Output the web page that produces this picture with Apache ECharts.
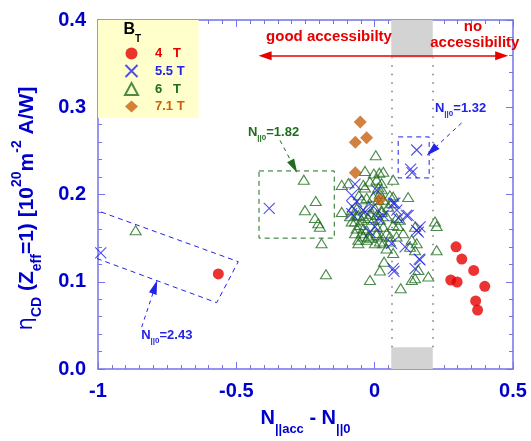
<!DOCTYPE html>
<html>
<head>
<meta charset="utf-8">
<script src="https://cdn.jsdelivr.net/npm/echarts@6/dist/echarts.min.js"></script>
<style>html,body{margin:0;padding:0;background:#fff}#c{width:531px;height:441px}</style>
</head>
<body>
<div id="c"></div>
<script>
// ---- data ----
const xTicks = [-1, -0.5, 0, 0.5];
const yTicks = [0.0, 0.1, 0.2, 0.3, 0.4];
const seriesNames = ['4   T', '5.5 T', '6   T', '7.1 T'];
const circles4T = [[0.294,0.140],[0.315,0.126],[0.358,0.113],[0.275,0.102],[0.298,0.0997],[0.398,0.0948],[0.365,0.078],[0.372,0.0676],[-0.565,0.109]];
const crosses55T = [[0.152,0.251],[0.130,0.229],[0.135,0.225],[-0.381,0.184],[-0.990,0.133],
 [-0.071,0.212],[-0.083,0.199],[-0.081,0.186],[-0.083,0.178],[-0.041,0.182],[0.007,0.205],[0.001,0.163],[0.013,0.173],[0.031,0.176],[0.067,0.190],[0.080,0.182],[0.085,0.173],[0.121,0.176],[0.152,0.159],[0.164,0.163],[0.110,0.140],[0.061,0.144],[0.164,0.125],[0.067,0.115],[0.146,0.115],[-0.005,0.186],[-0.035,0.180],[-0.017,0.157],[-0.065,0.192],[0.073,0.19],[0.115,0.176],[0.158,0.157],[0.161,0.126],[0.070,0.112]];
const triangles6T = [[0.004,0.245],[-0.035,0.227],[-0.003,0.224],[0.017,0.225],[0.031,0.226],[0.007,0.217],[-0.017,0.215],[0.025,0.213],[0.067,0.217],[-0.119,0.211],[-0.095,0.213],[-0.035,0.208],[0.013,0.208],[0.025,0.206],[0.019,0.201],[-0.047,0.1945],[-0.029,0.196],[-0.005,0.1975],[0.013,0.194],[0.031,0.194],[0.121,0.197],[0.067,0.1975],[-0.119,0.180],[-0.083,0.182],[-0.065,0.184],[-0.023,0.186],[0.001,0.184],[0.025,0.182],[-0.089,0.175],[-0.059,0.1765],[-0.041,0.175],[-0.017,0.178],[0.007,0.1765],[0.049,0.186],[-0.071,0.169],[-0.047,0.171],[-0.005,0.171],[0.019,0.171],[0.043,0.175],[0.091,0.171],[-0.065,0.161],[-0.041,0.161],[0.007,0.163],[0.031,0.163],[0.067,0.165],[0.085,0.164],[-0.071,0.1555],[-0.047,0.1555],[-0.023,0.152],[0.007,0.154],[0.025,0.152],[0.043,0.1555],[0.079,0.152],[0.103,0.1555],[-0.059,0.148],[-0.029,0.148],[0.001,0.144],[0.031,0.144],[0.055,0.146],[0.134,0.148],[0.152,0.144],[0.067,0.133],[0.128,0.140],[0.146,0.136],[0.043,0.138],[0.034,0.123],[0.019,0.113],[-0.017,0.102],[0.094,0.0925],[0.134,0.102],[0.146,0.104],[0.194,0.106],[0.218,0.169],[0.224,0.164],[0.224,0.136],[0.146,0.163],[0.158,0.1135],[0.079,0.173],
 [-0.256,0.217],[-0.213,0.1925],[-0.252,0.182],[-0.216,0.173],[-0.204,0.167],[-0.198,0.163],[-0.192,0.144],[-0.176,0.1085],[-0.864,0.159],
 [-0.057,0.199],[-0.041,0.211],[0.055,0.199],[0.061,0.190],[0.025,0.180],[-0.065,0.176],[-0.023,0.173],[-0.083,0.169],[-0.053,0.165],[-0.029,0.159],[0.007,0.156],[-0.017,0.150],[0.019,0.146],[0.055,0.152],[-0.059,0.144],[-0.041,0.152]];
const diamonds71T = [[-0.052,0.283],[-0.070,0.260],[-0.029,0.265],[-0.070,0.225],[0.019,0.194]];
// shaded band and annotations (data coordinates)
const bandX = [0.06, 0.21];
const bandTopY = [0.357, 0.4];
const bandBottomY = [0, 0.025];
const accessArrowY = 0.359;
const accessArrowX = [-0.396, 0.459];
const box132 = [[0.085,0.266],[0.197,0.219]];
const box182 = [[-0.418,0.227],[-0.146,0.150]];
const poly243 = [[-1.05,0.187],[-0.493,0.123],[-0.571,0.076],[-1.05,0.132],[-1.05,0.187]];
const arrow132 = [[0.314,0.282],[0.206,0.250]];
const arrow182 = [[-0.342,0.262],[-0.292,0.232]];
const arrow243 = [[-0.842,0.048],[-0.794,0.094]];

const FONT = 'Liberation Sans, Arial, sans-serif';
const AXC = '#0000cc';
const FRAME = '#7373ea';
const RED = '#e60000', BLUE = '#2323e6', GREEN = '#1f6e1f', ORANGE = '#c8620f';

const chart = echarts.init(document.getElementById('c'));

function xAx(pos, show) {
  return {
    type: 'value', min: -1, max: 0.5, interval: 0.5, position: pos,
    axisLine: {show: true, onZero: false, lineStyle: {color: FRAME, width: 1.5}},
    axisTick: {show: true, inside: true, length: 7, lineStyle: {color: FRAME}},
    minorTick: {show: true, splitNumber: 10, length: 4, lineStyle: {color: FRAME}},
    splitLine: {show: false}, minorSplitLine: {show: false},
    axisLabel: {show: show, margin: 12, color: AXC, fontFamily: FONT, fontWeight: 'bold', fontSize: 20,
      formatter: v => String(xTicks.find(t => Math.abs(t - v) < 1e-9) ?? v)},
    name: show ? '{m|N}{s|||acc}{m| - N}{s|||0}' : '',
    nameLocation: 'middle', nameGap: 39,
    nameTextStyle: {rich: {
      m: {fontFamily: FONT, fontWeight: 'bold', fontSize: 20, color: AXC, lineHeight: 28, verticalAlign: 'top'},
      s: {fontFamily: FONT, fontWeight: 'bold', fontSize: 13, color: AXC, lineHeight: 14, verticalAlign: 'bottom'}}}
  };
}
function yAx(pos, show) {
  return {
    type: 'value', min: 0, max: 0.4, interval: 0.1, position: pos,
    axisLine: {show: true, onZero: false, lineStyle: {color: FRAME, width: 1.5}},
    axisTick: {show: true, inside: true, length: 7, lineStyle: {color: FRAME}},
    minorTick: {show: true, splitNumber: 5, length: 4, lineStyle: {color: FRAME}},
    splitLine: {show: false}, minorSplitLine: {show: false},
    axisLabel: {show: show, margin: 12, color: AXC, fontFamily: FONT, fontWeight: 'bold', fontSize: 20,
      formatter: v => (yTicks.find(t => Math.abs(t - v) < 1e-9) ?? v).toFixed(1)},
    name: show ? '{g|η}{s|CD}{m| (Z}{s|eff}{m|=1) [10}{p|20}{m|m}{p|-2}{m| A/W]}' : '',
    nameLocation: 'middle', nameGap: 54,
    nameTextStyle: {padding: [0, 28, 0, 0], rich: {
      g: {fontFamily: 'DejaVu Sans', fontSize: 21, color: AXC, lineHeight: 34, verticalAlign: 'middle'},
      m: {fontFamily: FONT, fontWeight: 'bold', fontSize: 21, color: AXC, lineHeight: 34, verticalAlign: 'middle'},
      s: {fontFamily: FONT, fontWeight: 'bold', fontSize: 14, color: AXC, lineHeight: 14, verticalAlign: 'bottom'},
      p: {fontFamily: FONT, fontWeight: 'bold', fontSize: 14, color: AXC, lineHeight: 14, verticalAlign: 'top'}}}
  };
}

const crossPath = 'path://M0,0L10,10M10,0L0,10';

const option = {
  animation: false,
  backgroundColor: '#fff',
  grid: {left: 98, right: 18, top: 20, bottom: 72},
  xAxis: [xAx('bottom', true), xAx('top', false)],
  yAxis: [yAx('left', true), yAx('right', false)],
  legend: {
    orient: 'vertical', left: 98, top: 20,
    backgroundColor: '#ffffcc', borderWidth: 0,
    padding: [27, 14, 5, 26], itemGap: 4, itemWidth: 13, itemHeight: 12,
    textStyle: {fontFamily: FONT, fontWeight: 'bold', fontSize: 13, padding: [0, 0, 0, 12]},
    data: [
      {name: seriesNames[0], textStyle: {color: RED}},
      {name: seriesNames[1], textStyle: {color: BLUE}},
      {name: seriesNames[2], textStyle: {color: GREEN}},
      {name: seriesNames[3], textStyle: {color: ORANGE}}
    ],
    selectedMode: false
  },
  series: [
    { // accessibility arrow
      type: 'scatter', data: [], z: 1, silent: true,
      markLine: {silent: true, symbol: ['triangle', 'triangle'], symbolSize: [9, 13], label: {show: false},
        lineStyle: {color: RED, width: 1.5, type: 'solid'},
        data: [[{coord: [accessArrowX[0], accessArrowY]}, {coord: [accessArrowX[1], accessArrowY]}]]}
    },
    { // gray bands + dotted lines
      type: 'scatter', data: [], z: 2, silent: true,
      markArea: {silent: true, itemStyle: {color: '#d3d3d3'}, label: {show: false},
        data: [[{coord: [bandX[0], bandTopY[0]]}, {coord: [bandX[1], bandTopY[1]]}],
               [{coord: [bandX[0], bandBottomY[0]]}, {coord: [bandX[1], bandBottomY[1]]}]]},
      markLine: {silent: true, symbol: ['none', 'none'], label: {show: false},
        lineStyle: {color: '#777', width: 1.5, type: [1.5, 7]},
        data: [[{coord: [bandX[0], bandBottomY[1]]}, {coord: [bandX[0], bandTopY[0]]}],
               [{coord: [bandX[1], bandBottomY[1]]}, {coord: [bandX[1], bandTopY[0]]}]]}
    },
    { // annotation boxes & arrows
      type: 'scatter', data: [], z: 3, silent: true,
      markArea: {silent: true, label: {show: false},
        data: [[{coord: box132[0], itemStyle: {color: 'rgba(0,0,0,0)', borderColor: BLUE, borderWidth: 1, borderType: [5, 4]}}, {coord: box132[1]}],
               [{coord: box182[0], itemStyle: {color: 'rgba(0,0,0,0)', borderColor: GREEN, borderWidth: 1, borderType: [5, 4]}}, {coord: box182[1]}]]},
      markLine: {silent: true, symbol: ['none', 'triangle'], symbolSize: [8, 14], label: {show: false},
        data: [[{coord: arrow132[0], lineStyle: {color: BLUE, width: 1, type: [4, 4]}}, {coord: arrow132[1]}],
               [{coord: arrow182[0], lineStyle: {color: GREEN, width: 1, type: [4, 4]}}, {coord: arrow182[1]}],
               [{coord: arrow243[0], lineStyle: {color: BLUE, width: 1, type: [4, 4]}}, {coord: arrow243[1]}]]}
    },
    { // N||0=2.43 slanted box
      type: 'line', data: poly243, z: 3, silent: true, showSymbol: false, symbol: 'none', clip: true,
      lineStyle: {color: BLUE, width: 1, type: [5, 4]}
    },
    {
      name: seriesNames[2], type: 'scatter', data: triangles6T, z: 4,
      symbol: 'triangle', symbolSize: [11, 9],
      itemStyle: {color: 'rgba(255,255,255,0)', borderColor: GREEN, borderWidth: 1.1}
    },
    {
      name: seriesNames[1], type: 'scatter', data: crosses55T, z: 5,
      symbol: crossPath, symbolSize: 11,
      itemStyle: {color: 'rgba(255,255,255,0)', borderColor: BLUE, borderWidth: 1.1}
    },
    {
      name: seriesNames[3], type: 'scatter', data: diamonds71T, z: 6,
      symbol: 'diamond', symbolSize: 13,
      itemStyle: {color: ORANGE}
    },
    {
      name: seriesNames[0], type: 'scatter', data: circles4T, z: 6,
      symbol: 'circle', symbolSize: 11,
      itemStyle: {color: RED}
    }
  ]
};
chart.setOption(option);

// text annotations positioned through the axes
const P = (x, y) => chart.convertToPixel({xAxisIndex: 0, yAxisIndex: 0}, [x, y]);
const nRich = c => ({
  m: {fontFamily: FONT, fontWeight: 'bold', fontSize: 13, fill: c, lineHeight: 16, verticalAlign: 'top'},
  s: {fontFamily: FONT, fontWeight: 'bold', fontSize: 8, fill: c, lineHeight: 8, verticalAlign: 'bottom'}
});
const texts = [
  {pos: P(0.218, 0.297), text: '{m|N}{s|||0}{m|=1.32}', rich: nRich(BLUE), align: 'left'},
  {pos: P(-0.458, 0.270), text: '{m|N}{s|||0}{m|=1.82}', rich: nRich(GREEN), align: 'left'},
  {pos: P(-0.844, 0.037), text: '{m|N}{s|||0}{m|=2.43}', rich: nRich(BLUE), align: 'left'}
];
const g = texts.map(t => ({type: 'text', x: t.pos[0], y: t.pos[1], z: 10,
  style: {text: t.text, rich: t.rich, align: t.align, verticalAlign: 'middle'}}));
const redTxt = (s, x, y) => {
  const p = P(x, y);
  return {type: 'text', x: p[0], y: p[1], z: 10, style: {text: s, fill: RED, fontFamily: FONT, fontWeight: 'bold', fontSize: 15, align: 'center', verticalAlign: 'middle'}};
};
g.push(redTxt('good accessibilty', -0.165, 0.381));
g.push(redTxt('no', 0.355, 0.392));
g.push(redTxt('accessibility', 0.362, 0.374));
const bt = P(-0.876, 0.385);
g.push({type: 'text', x: bt[0], y: bt[1], z: 10, style: {text: '{b|B}{t|T}', align: 'center', verticalAlign: 'middle',
  rich: {b: {fontFamily: FONT, fontWeight: 'bold', fontSize: 16, fill: '#000', lineHeight: 22, verticalAlign: 'top'},
         t: {fontFamily: FONT, fontWeight: 'bold', fontSize: 10, fill: '#000', lineHeight: 10, verticalAlign: 'bottom'}}}});
chart.setOption({graphic: g});
</script>
</body>
</html>
